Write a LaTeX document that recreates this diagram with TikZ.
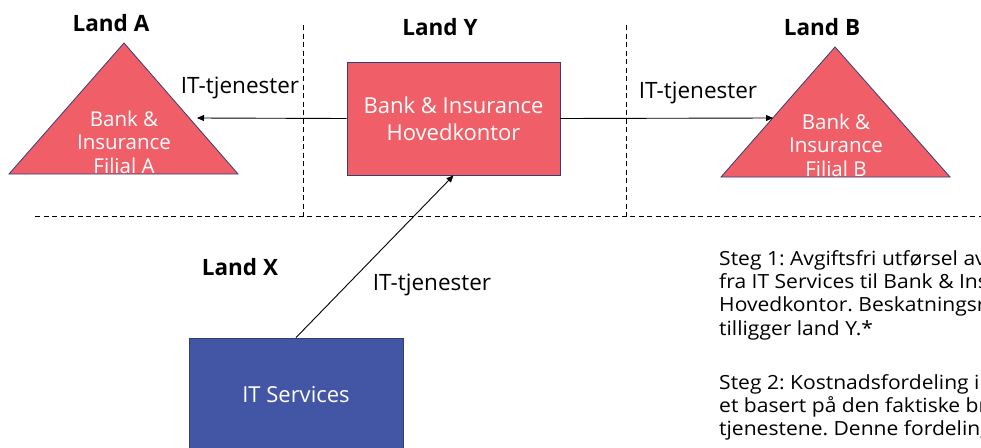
\documentclass[tikz,border=0pt]{standalone}
\usepackage{fontspec}
\setmainfont{Open Sans}
\newfontfamily\widefont[FakeStretch=1.08]{Open Sans}
\usetikzlibrary{arrows.meta}
\definecolor{redfill}{RGB}{240,95,103}
\definecolor{bluefill}{RGB}{67,86,166}
\definecolor{edgeblue}{RGB}{50,62,120}
\begin{document}
\begin{tikzpicture}[x=1pt,y=-1pt,
  lbl/.style={font=\fontsize{22.5}{26}\selectfont\bfseries, inner sep=0pt},
  flow/.style={font=\fontsize{22.5}{26}\selectfont, inner sep=0pt},
  conn/.style={draw=black, line width=0.9pt, -{Triangle[length=7pt,width=6pt]}},
  border/.style={draw=black, line width=1pt, dash pattern=on 5pt off 3.5pt},
  redshape/.style={fill=redfill, draw=edgeblue, line width=0.8pt},
]
\useasboundingbox (0,0) rectangle (981,447);
\clip (0,0) rectangle (981,447);

% borders
\draw[border] (303,25) -- (303,216);
\draw[border] (626,25) -- (626,216);
\draw[border] (35,216) -- (981,216);

% country labels
\node[lbl] (landA) at (111,23) {Land A};
\node[lbl] (landY) at (440,27) {Land Y};
\node[lbl] (landB) at (822,27) {Land B};
\node[lbl] (landX) at (240,267) {Land X};

% triangle A
\path[redshape] (124,43) -- (238,174) -- (9,174) -- cycle;
\node[text=white, align=center, font=\fontsize{20.5}{23.5}\selectfont, inner sep=0pt] (triA) at (124,142) {Bank \&\\Insurance\\Filial A};
\coordinate (aIn) at (197,118);

% triangle B
\path[redshape] (835,47) -- (950,177) -- (721,177) -- cycle;
\node[text=white, align=center, font=\fontsize{20.5}{23.5}\selectfont, inner sep=0pt] (triB) at (836,145) {Bank \&\\Insurance\\Filial B};
\coordinate (bIn) at (773,118);

% head office
\node[redshape, minimum width=213pt, minimum height=113pt, inner sep=0pt,
      text=white, align=center, font=\fontsize{22}{27}\selectfont] (hq) at (453.5,118.5)
      {Bank \& Insurance\\Hovedkontor};

% IT services
\node[fill=bluefill, draw=edgeblue, line width=0.8pt, minimum width=214pt, minimum height=114pt,
      text=white, font=\fontsize{22}{26}\selectfont] (its) at (296,395) {IT Services};

% connectors
\draw[conn] (hq.west) -- (aIn);
\draw[conn] (hq.east) -- (bIn);
\draw[conn] (its.north) -- (hq.south);

\node[flow] (l1) at (240,88) {IT-tjenester};
\node[flow] (l2) at (698,93) {IT-tjenester};
\node[flow] (l3) at (432,285) {IT-tjenester};

% steps text
\node[anchor=north west, align=left, inner sep=0pt, font=\widefont\fontsize{19.5}{23.3}\selectfont\frenchspacing] (steps) at (719,250)
{Steg 1: Avgiftsfri utførsel av tjenester\\
fra IT Services til Bank \& Insurance\\
Hovedkontor. Beskatningsretten\\
tilligger land Y.*\\[31pt]
Steg 2: Kostnadsfordeling internt\\
et basert på den faktiske bruken av\\
tjenestene. Denne fordelingen};
\end{tikzpicture}
\end{document}
